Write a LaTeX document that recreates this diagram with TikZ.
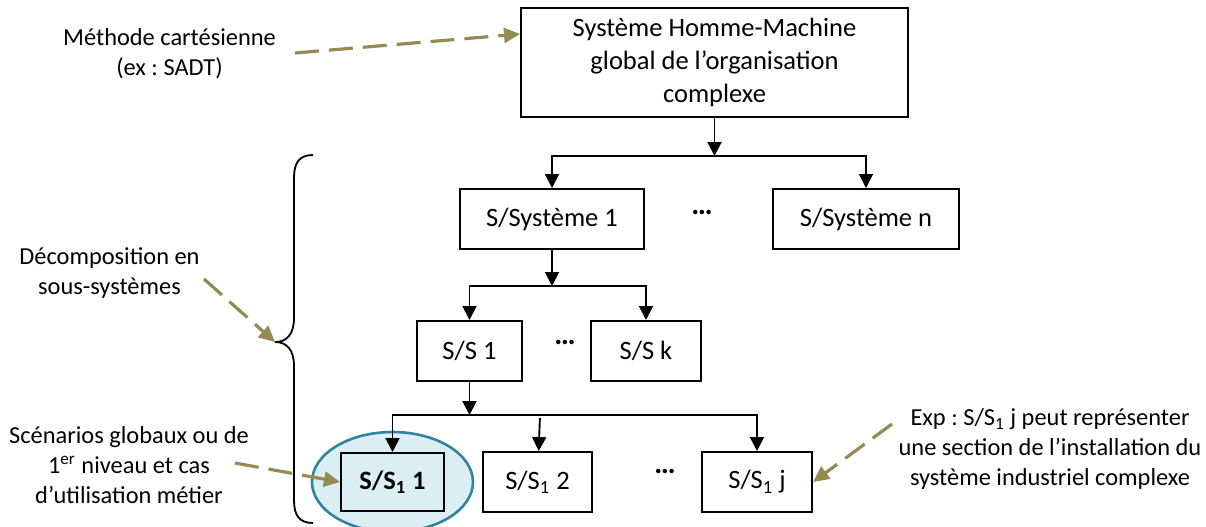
\documentclass[tikz,border=0pt]{standalone}
\usepackage{fontspec}
\setmainfont{Carlito}
\usepackage{tikz}
\usetikzlibrary{arrows.meta,positioning,shapes.geometric,backgrounds}
\definecolor{olivebrown}{HTML}{948A54}
\definecolor{tealring}{HTML}{31849B}
\definecolor{paleblue}{HTML}{DAEEF3}
\newcommand{\ssone}[1]{S/S\textsubscript{1}~#1}
\frenchspacing

\begin{document}
\begin{tikzpicture}[
  x=0.5pt, y=-0.5pt,
  font=\fontsize{13.25pt}{16.5pt}\selectfont,
  box/.style={rectangle, draw=black, line width=1pt, minimum height=30pt, align=center, inner sep=2pt},
  flow/.style={-{Triangle[length=7pt,width=7pt]}, line width=0.95pt, black},
  hintarrow/.style={-{Triangle[length=8pt,width=7.5pt]}, olivebrown, line width=1.6pt, dash pattern=on 12pt off 5pt},
  sidetext/.style={align=center, inner sep=0pt, font=\fontsize{12.2pt}{15pt}\selectfont},
  gap/.style={font=\fontsize{15pt}{16pt}\selectfont\bfseries, inner sep=0pt, anchor=base}
]
\useasboundingbox (0,0) rectangle (1206,526);

\node[box, minimum width=193.5pt, minimum height=54.5pt] (top) at (714.5,62.5)
  {Système Homme-Machine\\global de l’organisation\\complexe};
\node[box, minimum width=92pt, below=35pt of top, xshift=-81.25pt] (sys1) {S/Système 1};
\node[box, minimum width=93pt, right=63.5pt of sys1] (sysn) {S/Système n};
\node[box, minimum width=52.5pt, below=35pt of sys1, xshift=-41.25pt] (ss1) {S/S 1};
\node[box, minimum width=55pt, right=33.5pt of ss1] (ssk) {S/S k};
\node[box, minimum width=51.5pt, minimum height=29pt, below=35pt of ss1, xshift=-38.5pt, fill=paleblue] (s11) {\textbf{\ssone{1}}};
\node[box, minimum width=54.5pt, right=18.5pt of s11] (s12) {\ssone{2}};
\node[box, minimum width=55pt, right=54pt of s12] (s1j) {\ssone{j}};

\node[gap] (dots1) at (702,214.5) {…};
\node[gap] (dots2) at (565,344) {…};
\node[gap] (dots3) at (665,473.5) {…};

% branching
\coordinate[below=19pt of top] (j1);
\draw[flow] (top) -- (j1);
\draw[flow] (j1) -| (sys1);
\draw[flow] (j1) -| (sysn);

\coordinate[below=18pt of sys1] (j2);
\draw[flow] (sys1) -- (j2);
\draw[flow] (j2) -| (ss1);
\draw[flow] (j2) -| (ssk);

\coordinate[below=16.5pt of ss1] (j3);
\draw[flow] (ss1) -- (j3);
\draw[flow] (j3) -| (s11);
\draw[flow] (j3) -| (s1j);
\coordinate[above=16.5pt of s12.north, xshift=1.2pt] (s12in);
\draw[flow] (s12in) -- (s12);

\begin{scope}[on background layer]
\node[ellipse, draw=tealring, fill=paleblue, line width=1.3pt, minimum width=80.5pt, minimum height=50pt] (focus) at (s11) {};
\end{scope}

% brace
\draw[line width=0.9pt] (313,155) .. controls (299,155) and (294,163) .. (294,178) -- (294,318)
  .. controls (294,334) and (287,342) .. (275,342) .. controls (287,342) and (294,350) .. (294,366)
  -- (294,500) .. controls (294,515) and (299,523) .. (313,523);
\coordinate (bracetip) at (275,342);

% side notes
\node[sidetext] (meth) at (169.5,53.5) {Méthode cartésienne\\(ex : SADT)};
\node[sidetext] (decomp) at (109.5,273.5) {Décomposition en\\sous-systèmes};
\node[sidetext] (scen) at (129,465) {Scénarios globaux ou de\\1\textsuperscript{er} niveau et cas\\d’utilisation métier};
\node[sidetext] (expl) at (1050,449) {Exp : \ssone{j} peut représenter\\une section de l’installation du\\système industriel complexe};

\coordinate (methend) at (295,53);
\coordinate (decompend) at (204,279);
\coordinate (scenend) at (235,463);
\coordinate (explend) at (892,424);
\draw[hintarrow] (methend) -- ([yshift=14.25pt]top.west);
\draw[hintarrow] (decompend) -- (bracetip);
\draw[hintarrow] (scenend) -- (s11.west);
\draw[hintarrow] (explend) -- (s1j.east);

\end{tikzpicture}
\end{document}
